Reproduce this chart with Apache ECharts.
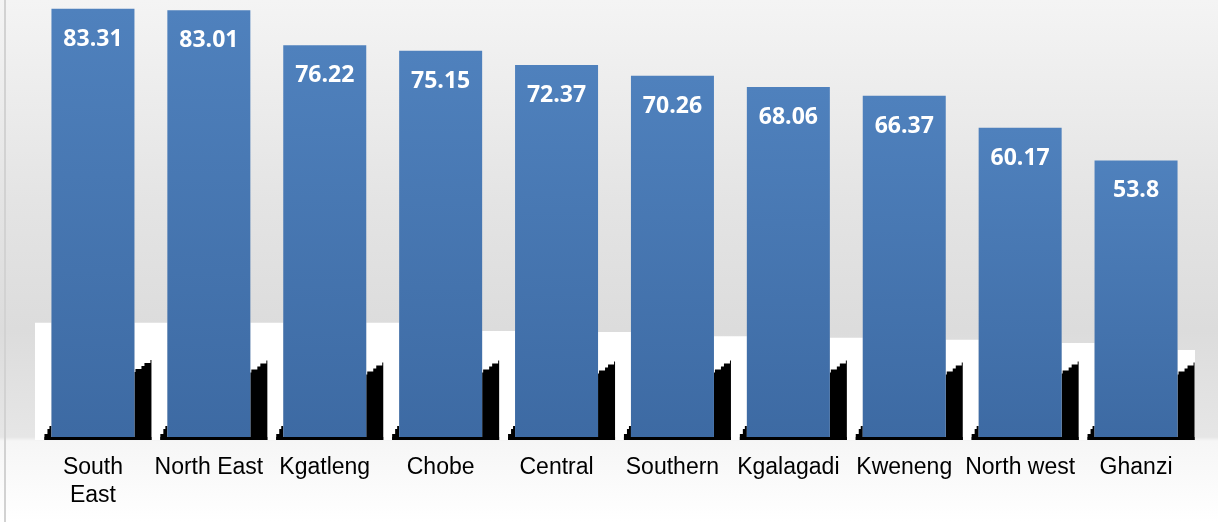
<!DOCTYPE html>
<html>
<head>
<meta charset="utf-8">
<script src="https://cdn.jsdelivr.net/npm/echarts@6/dist/echarts.min.js"></script>
<style>
    html, body { margin: 0; padding: 0; }
    #main {
        width: 1218px;
        height: 522px;
        background: linear-gradient(#f4f4f4 0px, #e4e4e4 200px, #dcdcdc 330px, #e6e6e6 437px, #f6f6f6 441px, #ffffff 522px);
        position: relative;
    }
    #main:before {
        content: '';
        position: absolute;
        left: 4px;
        top: 0;
        width: 2px;
        height: 522px;
        background: #d2d2d2;
    }
</style>
</head>
<body>
<div id="main"></div>
<script>
// districts, sorted as in the picture
const categories = ['South East', 'North East', 'Kgatleng', 'Chobe', 'Central', 'Southern', 'Kgalagadi', 'Kweneng', 'North west', 'Ghanzi']
const values = [83.31, 83.01, 76.22, 75.15, 72.37, 70.26, 68.06, 66.37, 60.17, 53.8]
// white patch top (right of each bar) and black shadow top, in axis units
const patchTop = [22.2, 22.2, 22.2, 20.6, 20.4, 19.6, 19.3, 18.9, 18.3, 16.9]
const shadowTop = [15.0, 14.9, 14.5, 14.9, 14.7, 14.9, 14.9, 14.5, 14.7, 14.5]

const barWidth = 83
const myChart = echarts.init(document.getElementById('main'))

function renderDeco(params, api) {
    const i = api.value(0)
    const base = api.coord([i, 0])
    const cx = base[0]
    const by = base[1]
    const band = api.size([1, 0])[0]
    const L = cx - barWidth / 2
    const R = cx + barWidth / 2
    const pt = api.coord([i, api.value(1)])[1]
    const st = api.coord([i, api.value(2)])[1]
    const children = []
    const rightEnd = i === categories.length - 1 ? cx + band / 2 + 1 : cx + band - barWidth / 2
    children.push({
        type: 'rect',
        shape: { x: R, y: pt, width: rightEnd - R, height: by + 3 - pt },
        style: { fill: '#ffffff' },
    })
    if (i === 0) {
        children.push({
            type: 'rect',
            shape: { x: cx - band / 2, y: pt, width: band / 2 - barWidth / 2, height: by + 3 - pt },
            style: { fill: '#ffffff' },
        })
    }
    // shadow right of bar
    children.push({
        type: 'polygon',
        shape: {
            points: [
                [R, by + 3], [R, st + 12], [R + 1, st + 12], [R + 1, st + 9], [R + 7, st + 9],
                [R + 7, st + 6], [R + 10, st + 6], [R + 10, st + 3], [R + 16, st + 3],
                [R + 16, st], [R + 17, st], [R + 17, by + 3],
            ],
        },
        style: { fill: '#000000' },
    })
    // small shadow left of bar
    children.push({
        type: 'polygon',
        shape: {
            points: [
                [L - 7, by + 3], [L - 7, by - 3], [L - 4, by - 3], [L - 4, by - 8],
                [L - 2, by - 8], [L - 2, by - 11], [L, by - 11], [L, by + 3],
            ],
        },
        style: { fill: '#000000' },
    })
    // base line under bar
    children.push({
        type: 'rect',
        shape: { x: L - 7, y: by, width: barWidth + 24, height: 3 },
        style: { fill: '#000000' },
    })
    return { type: 'group', children: children }
}

const decoData = categories.map((c, i) => [i, patchTop[i], shadowTop[i]])

const option = {
    backgroundColor: 'rgba(0, 0, 0, 0)',
    animation: false,
    grid: {
        top: 0,
        left: 35,
        right: 24,
        bottom: 85,
    },
    xAxis: {
        type: 'category',
        data: categories,
        axisLine: { show: false },
        axisTick: { show: false },
        axisLabel: {
            interval: 0,
            margin: 17,
            color: '#000000',
            fontFamily: 'Liberation Sans',
            fontSize: 23,
            lineHeight: 28,
            formatter(value) {
                return value === 'South East' ? 'South\nEast' : value
            },
        },
    },
    yAxis: {
        type: 'value',
        min: 0,
        max: 85,
        show: false,
    },
    series: [
        {
            type: 'custom',
            renderItem: renderDeco,
            data: decoData,
            encode: { x: 0, y: 1 },
            z: 1,
            silent: true,
        },
        {
            type: 'bar',
            data: values,
            barWidth: barWidth,
            z: 3,
            itemStyle: {
                color: new echarts.graphic.LinearGradient(0, 0, 0, 1, [
                    { offset: 0, color: '#4f81bd' },
                    { offset: 1, color: '#3d6aa3' },
                ]),
            },
            label: {
                show: true,
                position: 'insideTop',
                distance: 19,
                color: '#ffffff',
                fontFamily: 'Open Sans',
                fontWeight: 'bold',
                fontSize: 23,
            },
        },
    ],
}
myChart.setOption(option)
</script>
</body>
</html>
